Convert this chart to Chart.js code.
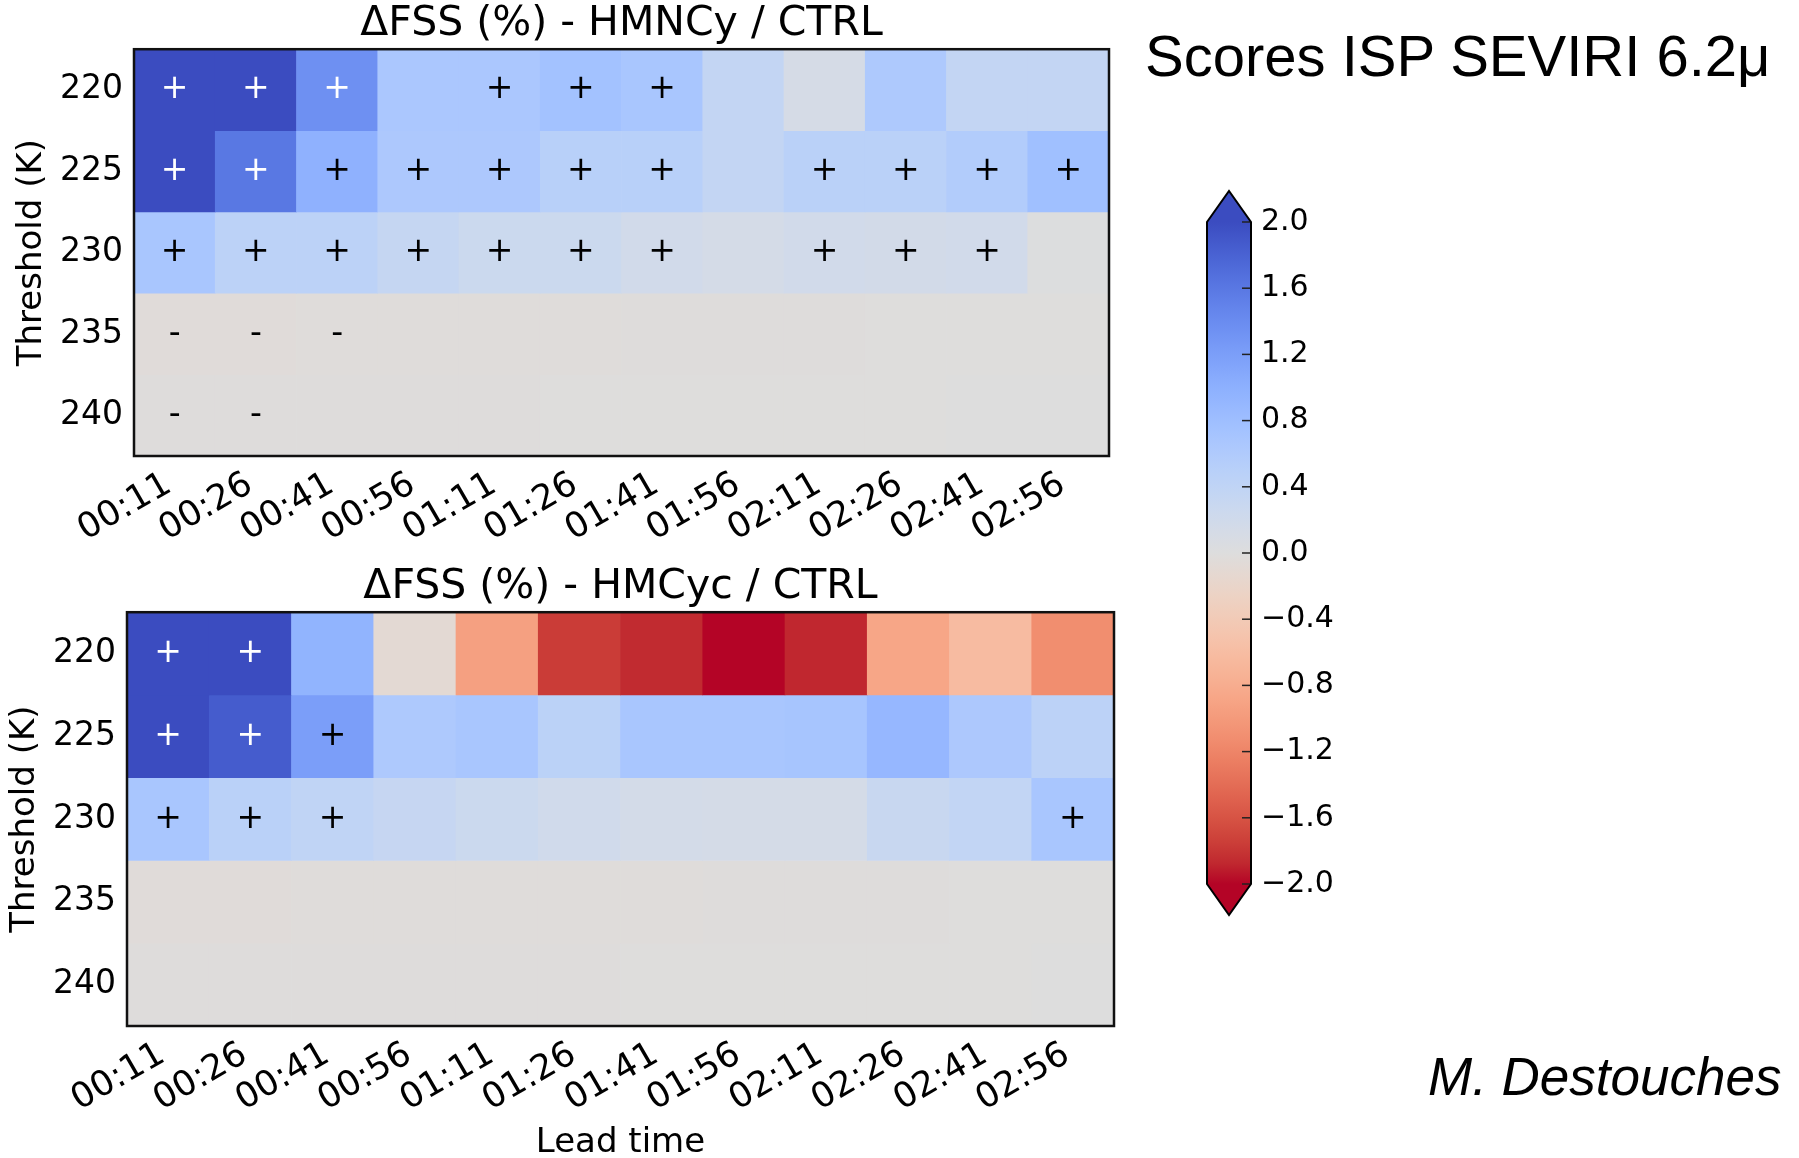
<!DOCTYPE html>
<html>
<head>
<meta charset="utf-8">
<title>Scores ISP SEVIRI 6.2μ</title>
<script src="https://cdn.jsdelivr.net/npm/chart.js@4.4.1/dist/chart.umd.min.js"></script>
<style>
  html, body { margin: 0; padding: 0; background: #fff; }
  body { width: 1799px; height: 1158px; position: relative; overflow: hidden; }
  canvas { position: absolute; }
  .note { position: absolute; font-family: 'Liberation Sans', Arial, sans-serif; color: #000; white-space: nowrap; line-height: 1; }
</style>
</head>
<body>
<canvas id="hmncy" width="1140" height="560" style="left:0;top:0"></canvas>
<canvas id="hmcyc" width="1140" height="598" style="left:0;top:560px"></canvas>
<canvas id="cbar" width="250" height="800" style="left:1150px;top:150px"></canvas>
<div class="note" style="left:1145px;top:27px;font-size:58px">Scores ISP SEVIRI 6.2μ</div>
<div class="note" style="left:1428px;top:1050px;font-size:53px;font-style:italic">M. Destouches</div>

<script>
// ---- data ----------------------------------------------------------------
const leadTimes = ['00:11', '00:26', '00:41', '00:56', '01:11', '01:26',
                   '01:41', '01:56', '02:11', '02:26', '02:41', '02:56'];
const thresholds = ['220', '225', '230', '235', '240'];

// ΔFSS (%) HMNCy vs CTRL, one row per brightness-temperature threshold
const hmncyDelta = [
  [2.20, 2.20, 1.35, 0.66, 0.66, 0.75, 0.68, 0.36, 0.12, 0.62, 0.36, 0.36],
  [2.10, 1.60, 0.98, 0.64, 0.64, 0.50, 0.50, 0.36, 0.48, 0.48, 0.57, 0.78],
  [0.68, 0.45, 0.45, 0.34, 0.26, 0.26, 0.18, 0.14, 0.18, 0.16, 0.18, 0.02],
  [-0.04, -0.04, -0.03, -0.03, -0.03, -0.03, -0.02, -0.02, -0.02, -0.01, -0.01, -0.01],
  [-0.02, -0.02, -0.02, -0.02, -0.02, -0.01, -0.01, -0.01, -0.01, -0.01, 0.00, 0.00]
];
// significance flags for HMNCy
const hmncyMarks = [
  ['+', '+', '+', '',  '+', '+', '+', '',  '',  '',  '',  '' ],
  ['+', '+', '+', '+', '+', '+', '+', '',  '+', '+', '+', '+'],
  ['+', '+', '+', '+', '+', '+', '+', '',  '+', '+', '+', '' ],
  ['-', '-', '-', '',  '',  '',  '',  '',  '',  '',  '',  '' ],
  ['-', '-', '',  '',  '',  '',  '',  '',  '',  '',  '',  '' ]
];

// ΔFSS (%) HMCyc vs CTRL
const hmcycDelta = [
  [2.20, 2.20, 0.95, -0.10, -0.94, -1.76, -1.86, -2.10, -1.88, -0.88, -0.62, -1.12],
  [2.10, 1.86, 1.20, 0.62, 0.68, 0.46, 0.68, 0.68, 0.70, 0.90, 0.64, 0.45],
  [0.68, 0.48, 0.40, 0.33, 0.26, 0.20, 0.15, 0.14, 0.14, 0.30, 0.38, 0.68],
  [-0.04, -0.04, -0.03, -0.03, -0.03, -0.03, -0.03, -0.02, -0.02, -0.02, -0.01, -0.01],
  [-0.02, -0.02, -0.02, -0.02, -0.02, -0.02, -0.01, -0.01, -0.01, -0.01, -0.01, 0.00]
];
// significance flags for HMCyc
const hmcycMarks = [
  ['+', '+', '',  '', '', '', '', '', '', '', '', '' ],
  ['+', '+', '+', '', '', '', '', '', '', '', '', '' ],
  ['+', '+', '+', '', '', '', '', '', '', '', '', '+'],
  ['',  '',  '',  '', '', '', '', '', '', '', '', '' ],
  ['',  '',  '',  '', '', '', '', '', '', '', '', '' ]
];

// colour scale limits and colourbar ticks
const scaleMin = -2.0;
const scaleMax = 2.0;
const scaleStep = 0.4;

// ---- colour map (coolwarm, reversed so that positive = blue) --------------
const COOLWARM = [
  [59,76,192],[68,90,204],[77,104,215],[87,117,225],[98,130,234],[108,142,241],
  [119,154,247],[130,165,251],[141,176,254],[152,185,255],[163,194,255],[174,201,253],
  [184,208,249],[194,213,244],[204,217,238],[213,219,230],[221,221,221],[229,216,209],
  [236,211,197],[241,204,185],[245,196,173],[247,187,160],[247,177,148],[247,166,135],
  [244,154,123],[241,141,111],[236,127,99],[229,112,88],[222,96,77],[213,80,66],
  [203,62,56],[192,40,47],[180,4,38]
];
function rgb(c) { return 'rgb(' + c.map(Math.round).join(',') + ')'; }
function cellColor(v) {
  let t = (scaleMax - v) / (scaleMax - scaleMin);
  t = Math.max(0, Math.min(1, t));
  const p = t * (COOLWARM.length - 1);
  const i = Math.min(COOLWARM.length - 2, Math.floor(p));
  const f = p - i;
  const a = COOLWARM[i], b = COOLWARM[i + 1];
  return rgb([0, 1, 2].map(k => a[k] + (b[k] - a[k]) * f));
}

const FONT = "'DejaVu Sans', sans-serif";

// ---- heat-map panels --------------------------------------------------------
function markPlugin(rows, marks) {
  return {
    id: 'cellMarks',
    afterDatasetsDraw(chart) {
      const { ctx, chartArea: a, scales: { x, y } } = chart;
      ctx.save();
      ctx.font = '33px ' + FONT;
      ctx.textAlign = 'center';
      ctx.textBaseline = 'middle';
      marks.forEach((row, r) => row.forEach((m, c) => {
        if (!m) return;
        ctx.fillStyle = rows[r][c] > 1.28 ? '#ffffff' : '#000000';
        ctx.fillText(m, x.getPixelForValue(c), y.getPixelForValue(r));
      }));
      ctx.lineWidth = 2.5;
      ctx.strokeStyle = '#111';
      ctx.strokeRect(a.left, a.top, a.right - a.left, a.bottom - a.top);
      ctx.restore();
    }
  };
}

function heatmap(canvasId, title, rows, marks, geo) {
  return new Chart(document.getElementById(canvasId), {
    type: 'bar',
    data: {
      labels: leadTimes,
      datasets: rows.map((vals, r) => ({
        label: thresholds[r],
        data: vals.map(() => [r - 0.5, r + 0.5]),
        backgroundColor: vals.map(cellColor),
        borderWidth: 0,
        barPercentage: 1,
        categoryPercentage: 1,
        grouped: false
      }))
    },
    options: {
      responsive: false,
      animation: false,
      layout: { padding: { left: 0, right: geo.padRight, top: 0, bottom: 0 } },
      plugins: {
        legend: { display: false },
        tooltip: { enabled: false },
        title: {
          display: true,
          fullSize: false,
          text: title,
          color: '#000',
          font: { family: FONT, size: 41, weight: 'normal', lineHeight: 1.2 },
          padding: { top: geo.titleTop, bottom: geo.titleBottom }
        }
      },
      scales: {
        x: {
          type: 'category',
          afterFit(s) { s.height = geo.xHeight; },
          grid: { display: false, drawTicks: false },
          border: { display: false },
          ticks: {
            autoSkip: false, minRotation: 30, maxRotation: 30,
            padding: geo.xPad, labelOffset: -6, color: '#000',
            font: { family: FONT, size: 35 }
          },
          title: {
            display: geo.xTitle,
            text: 'Lead time',
            color: '#000',
            font: { family: FONT, size: 34, lineHeight: 0.9 },
            padding: { top: 0, bottom: 0 }
          }
        },
        y: {
          type: 'linear',
          reverse: true,
          min: -0.5,
          max: thresholds.length - 0.5,
          afterFit(s) { s.width = geo.yWidth; },
          afterBuildTicks(s) { s.ticks = thresholds.map((t, i) => ({ value: i })); },
          grid: { display: false, drawTicks: false },
          border: { display: false },
          ticks: {
            padding: 11, color: '#000',
            font: { family: FONT, size: 33 },
            callback: (v, i) => thresholds[i]
          },
          title: {
            display: true,
            text: 'Threshold (K)',
            color: '#000',
            font: { family: FONT, size: 34, lineHeight: 1.2 },
            padding: { top: geo.yTitlePad, bottom: 0 }
          }
        }
      }
    },
    plugins: [markPlugin(rows, marks)]
  });
}

heatmap('hmncy', 'ΔFSS (%) - HMNCy / CTRL', hmncyDelta, hmncyMarks,
  { padRight: 31, titleTop: 0, titleBottom: 0, xHeight: 104, yWidth: 134, yTitlePad: 12, xPad: 8, xTitle: false });
heatmap('hmcyc', 'ΔFSS (%) - HMCyc / CTRL', hmcycDelta, hmcycMarks,
  { padRight: 26, titleTop: 3, titleBottom: 0, xHeight: 132, yWidth: 127, yTitlePad: 5, xPad: 8, xTitle: true });

// ---- colour bar ---------------------------------------------------------------
function barGradient(chart) {
  const { ctx, chartArea, scales } = chart;
  if (!chartArea || !scales.y) return cellColor(0);
  const y = scales.y;
  const g = ctx.createLinearGradient(0, y.getPixelForValue(scaleMax), 0, y.getPixelForValue(scaleMin));
  COOLWARM.forEach((c, i) => g.addColorStop(i / (COOLWARM.length - 1), rgb(c)));
  return g;
}

const colorbarFrame = {
  id: 'colorbarFrame',
  afterDatasetsDraw(chart) {
    const { ctx, chartArea: a, scales: { y } } = chart;
    const top = y.getPixelForValue(scaleMax);
    const bot = y.getPixelForValue(scaleMin);
    const ext = (bot - top) * 0.047;
    const cx = (a.left + a.right) / 2;
    ctx.save();
    // extension triangles
    ctx.fillStyle = cellColor(scaleMax + 1);
    ctx.beginPath(); ctx.moveTo(a.left, top); ctx.lineTo(cx, top - ext); ctx.lineTo(a.right, top); ctx.closePath(); ctx.fill();
    ctx.fillStyle = cellColor(scaleMin - 1);
    ctx.beginPath(); ctx.moveTo(a.left, bot); ctx.lineTo(cx, bot + ext); ctx.lineTo(a.right, bot); ctx.closePath(); ctx.fill();
    // inner tick marks on the right edge
    ctx.strokeStyle = '#222';
    ctx.lineWidth = 1.5;
    y.ticks.forEach(t => {
      const py = y.getPixelForValue(t.value);
      ctx.beginPath(); ctx.moveTo(a.right - 9, py); ctx.lineTo(a.right, py); ctx.stroke();
    });
    // outline
    ctx.strokeStyle = '#000';
    ctx.lineWidth = 2;
    ctx.lineJoin = 'miter';
    ctx.beginPath();
    ctx.moveTo(a.left, top); ctx.lineTo(cx, top - ext); ctx.lineTo(a.right, top);
    ctx.lineTo(a.right, bot); ctx.lineTo(cx, bot + ext); ctx.lineTo(a.left, bot);
    ctx.closePath(); ctx.stroke();
    ctx.restore();
  }
};

new Chart(document.getElementById('cbar'), {
  type: 'bar',
  data: {
    labels: [''],
    datasets: [{
      data: [[scaleMin, scaleMax]],
      backgroundColor: c => barGradient(c.chart),
      borderWidth: 0,
      barPercentage: 1,
      categoryPercentage: 1
    }]
  },
  options: {
    responsive: false,
    animation: false,
    layout: { padding: { left: 57, right: 0, top: 72, bottom: 66 } },
    plugins: { legend: { display: false }, tooltip: { enabled: false } },
    scales: {
      x: { display: false },
      y: {
        position: 'right',
        min: scaleMin,
        max: scaleMax,
        afterFit(s) { s.width = 149; },
        grid: { display: false, drawTicks: false },
        border: { display: false },
        ticks: {
          stepSize: scaleStep, padding: 10, color: '#000',
          font: { family: FONT, size: 30 },
          callback: v => (v < 0 ? '\u2212' + Math.abs(v).toFixed(1) : Math.abs(v).toFixed(1))
        }
      }
    }
  },
  plugins: [colorbarFrame]
});
</script>
</body>
</html>
